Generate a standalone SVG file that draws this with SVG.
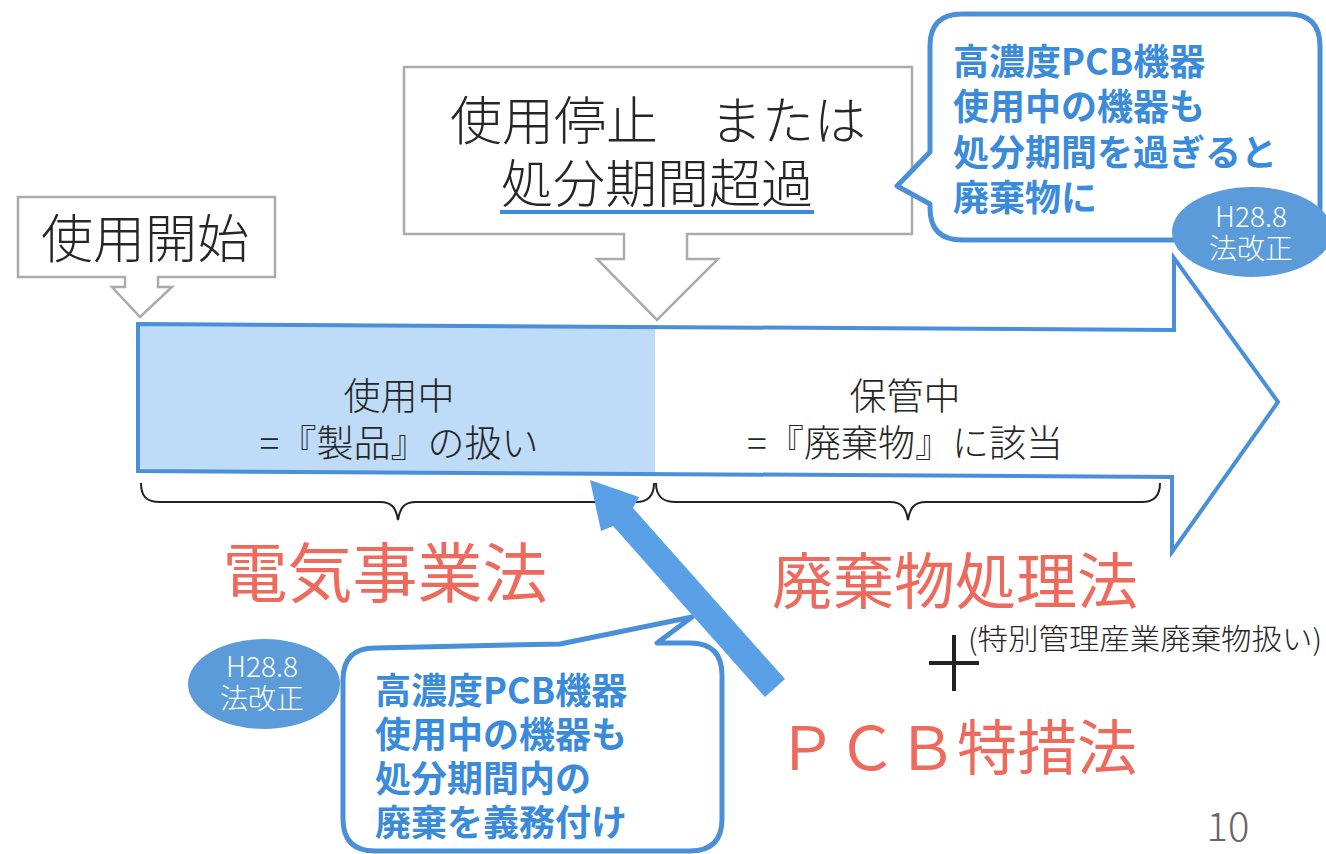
<svg xmlns="http://www.w3.org/2000/svg" width="1326" height="854" viewBox="0 0 1326 854">
<style>
text{font-family:"Noto Sans CJK JP","Noto Sans CJK SC",sans-serif}
.dark{font-weight:300;fill:#262626}
.blu{font-weight:700;fill:#3a8bda;font-size:36px}
.red{font-weight:400;fill:#ee6a5c}
.ell{fill:#5b9bd9}
.etx{font-weight:300;fill:#fff;font-size:28px;text-anchor:middle}
.gbox{fill:#fff;stroke:#ababab;stroke-width:2.5}
.call{fill:#fff;stroke:#4a90d9;stroke-width:5;stroke-linejoin:round}
.brace{fill:none;stroke:#222;stroke-width:2}
</style>
<rect width="1326" height="854" fill="#fff"/>

<g id="timeline">
<polygon points="138,324 655,327 655,474 138,471" fill="#bedcf7"/>
<path d="M138,324 L1174,330 L1174,258 L1278,402 L1172,552 L1172,477 L138,471 Z" fill="none" stroke="#4a8fd9" stroke-width="4" stroke-linejoin="miter"/>
<text class="dark" x="399" y="410" font-size="37" text-anchor="middle">使用中</text>
<text class="dark" x="399" y="457" font-size="37" text-anchor="middle">=『製品』の扱い</text>
<text class="dark" x="905" y="410" font-size="37" text-anchor="middle">保管中</text>
<text class="dark" x="905" y="457" font-size="37" text-anchor="middle">=『廃棄物』に該当</text>
</g>

<g id="start">
<path class="gbox" d="M18,197 H275 V277 H158 V287 H172 L140,317 L112,287 H125 V277 H18 Z"/>
<text class="dark" x="145" y="258" font-size="52" text-anchor="middle">使用開始</text>
</g>

<g id="stop">
<path class="gbox" d="M404,67 H912 V234 H687 V259 H718 L657,320 L597,259 H624 V234 H404 Z"/>
<text class="dark" x="658" y="140" font-size="52" text-anchor="middle">使用停止　または</text>
<text class="dark" x="657" y="203" font-size="52" text-anchor="middle">処分期間超過</text>
<line x1="500" y1="212" x2="814" y2="212" stroke="#3a8bda" stroke-width="4"/>
</g>

<g id="callout-top">
<path class="call" d="M962,14 H1288 Q1320,14 1320,46 V208 Q1320,240 1288,240 H962 Q930,240 930,208 V204 L897,186 L930,152 V46 Q930,14 962,14 Z"/>
<text class="blu" x="953" y="75">高濃度PCB機器</text>
<text class="blu" x="953" y="120">使用中の機器も</text>
<text class="blu" x="953" y="166">処分期間を過ぎると</text>
<text class="blu" x="953" y="211">廃棄物に</text>
</g>

<g id="badge-top">
<ellipse class="ell" cx="1252" cy="232" rx="80" ry="45"/>
<text class="etx" x="1251" y="227">H28.8</text>
<text class="etx" x="1251" y="259">法改正</text>
</g>

<g id="braces">
<path class="brace" d="M141,483 C141,496 146,502 160,502 H380 C392,502 396,508 398,520 C400,508 404,502 416,502 H636 C648,502 654,496 654,483"/>
<path class="brace" d="M656,483 C656,496 662,502 676,502 H890 C902,502 906,508 908,520 C910,508 914,502 926,502 H1142 C1154,502 1160,496 1160,483"/>
</g>

<g id="laws">
<text class="red" x="385" y="597" font-size="65" text-anchor="middle">電気事業法</text>
<text class="red" x="955" y="604" font-size="61" font-weight="500" text-anchor="middle">廃棄物処理法</text>
<text class="red" x="957" y="770" font-size="60" font-weight="500" text-anchor="middle">ＰＣＢ特措法</text>
<path d="M954,635 V691 M929,663 H979" stroke="#222" stroke-width="4" fill="none"/>
<text class="dark" x="968" y="650" font-size="29" font-weight="400" textLength="354" lengthAdjust="spacingAndGlyphs">(特別管理産業廃棄物扱い)</text>
</g>

<g id="callout-bottom">
<path class="call" d="M375,648 L560,644 L692,617 L657,643 H690 Q722,643 722,675 V819 Q722,851 690,851 H375 Q343,851 343,819 V680 Q343,648 375,648 Z"/>
<text class="blu" x="375" y="704">高濃度PCB機器</text>
<text class="blu" x="375" y="748">使用中の機器も</text>
<text class="blu" x="375" y="792">処分期間内の</text>
<text class="blu" x="375" y="836">廃棄を義務付け</text>
</g>

<g id="badge-bottom">
<ellipse class="ell" cx="264" cy="684" rx="76" ry="45"/>
<text class="etx" x="262" y="677">H28.8</text>
<text class="etx" x="262" y="709">法改正</text>
</g>

<g id="connectors">
<polygon points="785,679 633,508 639,497 590,480 601,531 613,526 765,697" fill="#5aa0e6"/>
</g>

<text x="1228" y="841" font-size="40" font-family="Noto Sans, sans-serif" font-weight="300" fill="#666" text-anchor="middle">10</text>
</svg>
